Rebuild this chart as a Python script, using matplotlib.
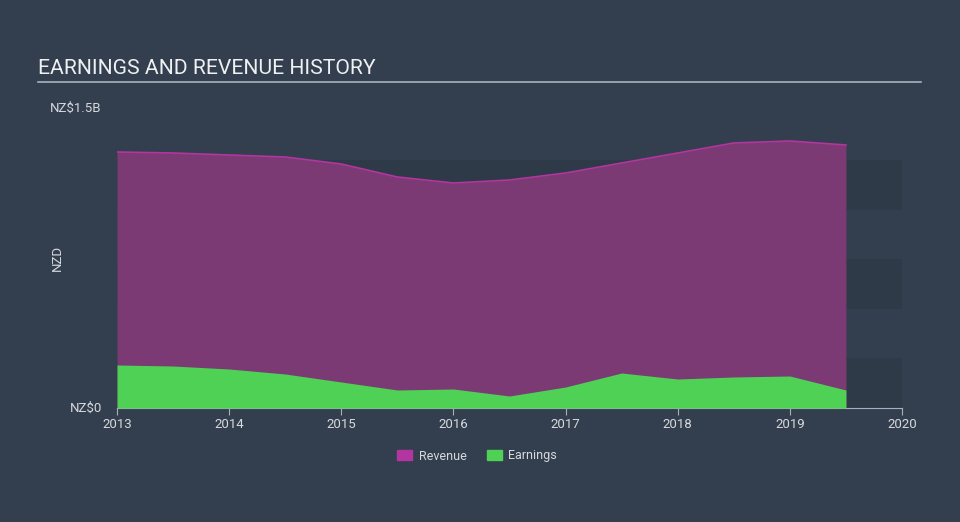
import matplotlib.pyplot as plt
from matplotlib.patches import Patch

years = [2013.0, 2013.5, 2014.0, 2014.5, 2015.0, 2015.5, 2016.0, 2016.5,
         2017.0, 2017.5, 2018.0, 2018.5, 2019.0, 2019.5]
revenue = [1.28, 1.275, 1.265, 1.255, 1.22, 1.155, 1.125, 1.14,
           1.175, 1.225, 1.275, 1.325, 1.335, 1.315]  # NZ$ billions
earnings = [0.215, 0.21, 0.195, 0.17, 0.13, 0.09, 0.095, 0.06,
            0.105, 0.175, 0.145, 0.155, 0.16, 0.09]
xticks = [2013, 2014, 2015, 2016, 2017, 2018, 2019, 2020]

BG = "#333f4f"
DARK_BAND = "#2e3a48"
TEXT = "#d6d9dd"

plt.rcParams['font.family'] = ['Roboto', 'DejaVu Sans']

fig = plt.figure(figsize=(9.6, 5.22), dpi=100, facecolor=BG)
ax = fig.add_axes([117 / 960, 114 / 522, 785 / 960, 300 / 522])
ax.set_facecolor(BG)

# alternating bands
for lo in [0.0, 0.495, 0.99]:
    ax.axhspan(lo, lo + 0.248, color=DARK_BAND, zorder=0, lw=0)

ax.fill_between(years, revenue, color="#7b3a74", zorder=2, lw=0)
ax.plot(years, revenue, color="#b3359f", lw=1.2, zorder=3)
ax.fill_between(years, earnings, color="#4fd155", zorder=4, lw=0)

ax.set_xlim(2013, 2020)
ax.set_ylim(0, 1.5)
ax.set_xticks(xticks)
ax.set_xticklabels([str(x) for x in xticks], color=TEXT, fontsize=9.5)
ax.tick_params(axis='x', length=5, color="#a8b0ba", pad=2)
ax.set_yticks([])
for s in ["top", "right", "left"]:
    ax.spines[s].set_visible(False)
ax.spines["bottom"].set_color("#a8b0ba")

fig.text(102 / 960, 1 - 408 / 522, "NZ$0", color=TEXT, fontsize=9.5,
         ha="right", va="center")
fig.text(50 / 960, 1 - 108 / 522, "NZ$1.5B", color=TEXT, fontsize=9.5,
         ha="left", va="center")
fig.text(57 / 960, 1 - 258 / 522, "NZD", color=TEXT, fontsize=9.5,
         ha="center", va="center", rotation=90)

fig.text(38 / 960, 1 - 68 / 522, "EARNINGS AND REVENUE HISTORY", color="#eef0f2",
         fontsize=15.2, ha="left", va="center")
fig.add_artist(plt.Line2D([38 / 960, 921 / 960], [1 - 82 / 522, 1 - 82 / 522],
                          color="#a8b0ba", lw=1.2))

handles = [Patch(color="#b3359f", label="Revenue"),
           Patch(color="#4fd155", label="Earnings")]
fig.legend(handles=handles, loc="center", bbox_to_anchor=(477 / 960, 1 - 456 / 522),
           ncol=2, frameon=False, fontsize=9, labelcolor=TEXT,
           handlelength=1.2, handleheight=0.9, columnspacing=1.6, handletextpad=0.5)

fig.savefig("out.png", dpi=100, facecolor=BG)
